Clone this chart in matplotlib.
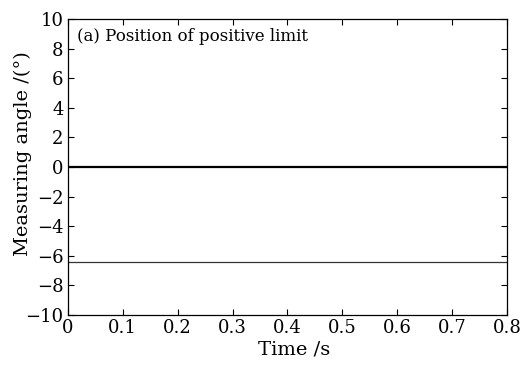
import numpy as np
import matplotlib
matplotlib.use('Agg')
import matplotlib.pyplot as plt

plt.rcParams.update({'font.family': 'DejaVu Serif', 'font.size': 13})

# readings
time_s = [0.0, 0.1, 0.2, 0.3, 0.4, 0.5, 0.6, 0.7, 0.8]
angle_ref = [0.0, 0.0, 0.0, 0.0, 0.0, 0.0, 0.0, 0.0, 0.0]
angle_meas = [-6.45, -6.45, -6.45, -6.45, -6.45, -6.45, -6.45, -6.45, -6.45]

xticks = [0, 0.1, 0.2, 0.3, 0.4, 0.5, 0.6, 0.7, 0.8]
xticklabels = ['0', '0.1', '0.2', '0.3', '0.4', '0.5', '0.6', '0.7', '0.8']
yticks = [-10, -8, -6, -4, -2, 0, 2, 4, 6, 8, 10]
yticklabels = ['\u221210', '\u22128', '\u22126', '\u22124', '\u22122', '0', '2', '4', '6', '8', '10']

fig = plt.figure(figsize=(5.26, 3.65), dpi=100)
ax = fig.add_axes([0.129, 0.137, 0.835, 0.811])

ax.plot(time_s, angle_ref, color='black', lw=1.6)
ax.plot(time_s, angle_meas, color='#333333', lw=0.9)

ax.set_xlim(0, 0.8)
ax.set_ylim(-10, 10)
ax.set_xticks(xticks)
ax.set_xticklabels(xticklabels)
ax.set_yticks(yticks)
ax.set_yticklabels(yticklabels)
ax.tick_params(direction='in', top=True, right=True, length=4, width=0.8, pad=3)
for s in ax.spines.values():
    s.set_linewidth(0.9)

ax.set_xlabel('Time /s', fontsize=14)
ax.xaxis.set_label_coords(0.515, -0.085)
ax.set_ylabel('Measuring angle /(\u00b0)', fontsize=14)
ax.yaxis.set_label_coords(-0.082, 0.544)
ax.text(0.02, 0.968, '(a) Position of positive limit', transform=ax.transAxes,
        ha='left', va='top', fontsize=12)

fig.savefig('out.png', dpi=100)
